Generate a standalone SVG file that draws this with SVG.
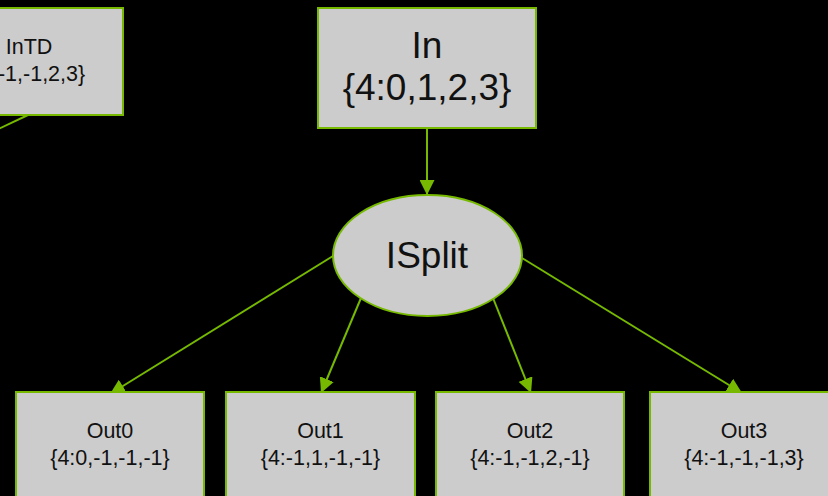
<svg xmlns="http://www.w3.org/2000/svg" width="828" height="496" viewBox="0 0 828 496">
  <defs>
    <style>
      .box { fill: #cccccc; stroke: #76b900; stroke-width: 2; }
      .edge { stroke: #76b900; stroke-width: 2; fill: none; }
      .lbl { font-family: "Liberation Sans", Arial, sans-serif; fill: #111111; text-anchor: middle; }
      .small { font-size: 21.5px; }
      .big { font-size: 37px; }
    </style>
    <marker id="arrow" viewBox="0 0 15 15" refX="15" refY="7.5" markerWidth="15" markerHeight="15" markerUnits="userSpaceOnUse" orient="auto">
      <path d="M0,0 L15,7.5 L0,15 Z" fill="#76b900"/>
    </marker>
  </defs>

  <rect x="0" y="0" width="828" height="496" fill="#000000"/>

  <!-- connectors -->
  <g id="edges">
    <line class="edge" x1="28" y1="115" x2="-10" y2="133"/>
    <line class="edge" x1="427" y1="128" x2="427" y2="195" marker-end="url(#arrow)"/>
    <line class="edge" x1="333" y1="256" x2="110" y2="394" marker-end="url(#arrow)"/>
    <line class="edge" x1="361" y1="298" x2="321" y2="393" marker-end="url(#arrow)"/>
    <line class="edge" x1="493" y1="298" x2="531" y2="393" marker-end="url(#arrow)"/>
    <line class="edge" x1="522" y1="258" x2="742" y2="393" marker-end="url(#arrow)"/>
  </g>

  <!-- nodes -->
  <g id="InTD">
    <rect class="box" x="-65" y="8" width="188" height="107"/>
    <text class="lbl small" x="29" y="54">InTD</text>
    <text class="lbl small" x="29" y="81">{4:-1,-1,2,3}</text>
  </g>

  <g id="In">
    <rect class="box" x="318" y="8" width="218" height="120"/>
    <text class="lbl big" x="427" y="58">In</text>
    <text class="lbl big" x="427" y="100">{4:0,1,2,3}</text>
  </g>

  <g id="ISplit">
    <ellipse class="box" cx="427.5" cy="255.5" rx="94.5" ry="60.5"/>
    <text class="lbl big" x="427" y="268">ISplit</text>
  </g>

  <g id="Out0">
    <rect class="box" x="16" y="392" width="188" height="110"/>
    <text class="lbl small" x="110" y="438">Out0</text>
    <text class="lbl small" x="110" y="465">{4:0,-1,-1,-1}</text>
  </g>

  <g id="Out1">
    <rect class="box" x="226" y="392" width="189" height="110"/>
    <text class="lbl small" x="320.5" y="438">Out1</text>
    <text class="lbl small" x="320.5" y="465">{4:-1,1,-1,-1}</text>
  </g>

  <g id="Out2">
    <rect class="box" x="436" y="392" width="188" height="110"/>
    <text class="lbl small" x="530" y="438">Out2</text>
    <text class="lbl small" x="530" y="465">{4:-1,-1,2,-1}</text>
  </g>

  <g id="Out3">
    <rect class="box" x="650" y="392" width="188" height="110"/>
    <text class="lbl small" x="744" y="438">Out3</text>
    <text class="lbl small" x="744" y="465">{4:-1,-1,-1,3}</text>
  </g>
</svg>
